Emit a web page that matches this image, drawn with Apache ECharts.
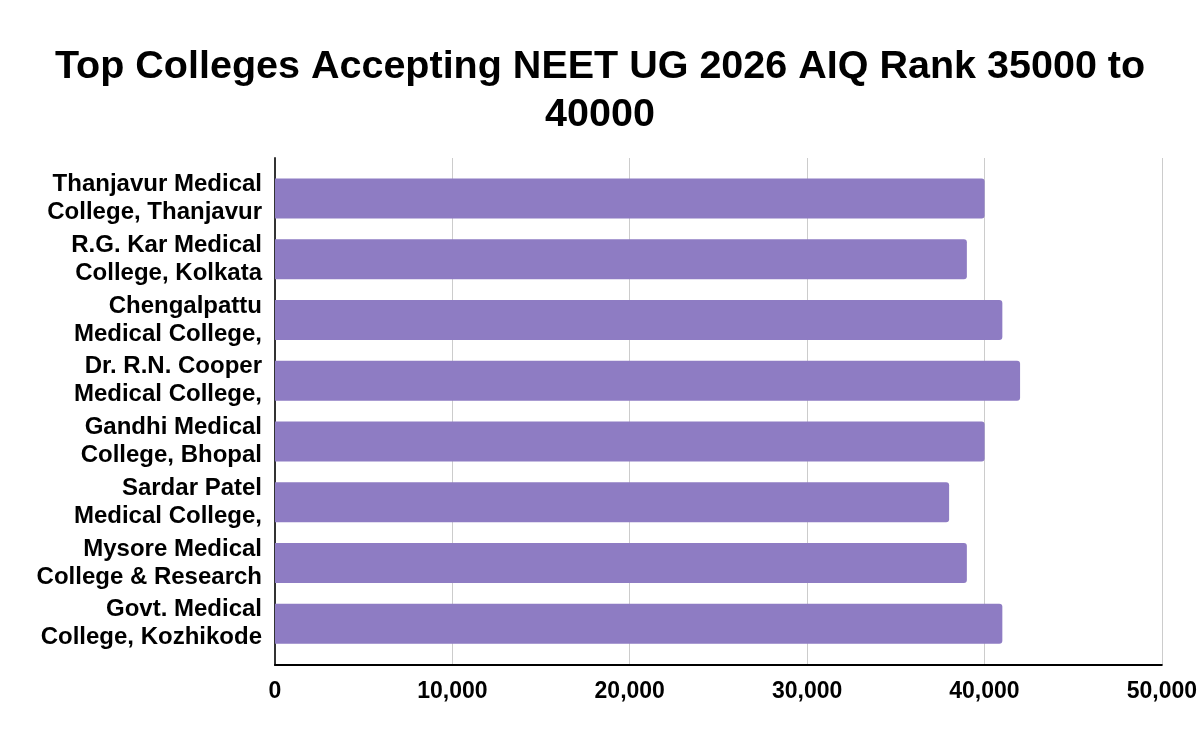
<!DOCTYPE html>
<html>
<head>
<meta charset="utf-8">
<script src="https://cdn.jsdelivr.net/npm/echarts@6/dist/echarts.min.js"></script>
<style>
html, body { margin: 0; padding: 0; background: #fff; }
#container { width: 1200px; height: 742px; }
</style>
</head>
<body>
<div id="container"></div>
<script>
var colleges = [
    'Thanjavur Medical\nCollege, Thanjavur',
    'R.G. Kar Medical\nCollege, Kolkata',
    'Chengalpattu\nMedical College,',
    'Dr. R.N. Cooper\nMedical College,',
    'Gandhi Medical\nCollege, Bhopal',
    'Sardar Patel\nMedical College,',
    'Mysore Medical\nCollege & Research',
    'Govt. Medical\nCollege, Kozhikode'
];
var closingRank = [40000, 39000, 41000, 42000, 40000, 38000, 39000, 41000];

var font = 'Liberation Sans';
var dom = document.getElementById('container');
var myChart = echarts.init(dom);

var option = {
    animation: false,
    title: {
        text: 'Top Colleges Accepting NEET UG 2026 AIQ Rank 35000 to\n40000',
        left: 'center',
        top: 38,
        textStyle: {
            fontFamily: font,
            fontSize: 39.5,
            fontWeight: 'bold',
            color: '#000',
            lineHeight: 48
        }
    },
    grid: [
        { left: 275, right: 38, top: 158, bottom: 77 },
        { left: 275, right: 38, top: 168, bottom: 88 }
    ],
    xAxis: [
        {
            gridIndex: 0,
            type: 'value',
            min: 0,
            max: 50000,
            interval: 10000,
            axisLine: { show: true, lineStyle: { color: '#000', width: 2 } },
            axisTick: { show: false },
            splitLine: { lineStyle: { color: '#cccccc', width: 1 } },
            axisLabel: {
                margin: 15,
                fontFamily: font,
                fontSize: 23,
                fontWeight: 'bold',
                color: '#000',
                formatter: function (v) { return v.toLocaleString('en-US'); }
            }
        },
        {
            gridIndex: 1,
            type: 'value',
            min: 0,
            max: 50000,
            show: false
        }
    ],
    yAxis: [
        {
            gridIndex: 0,
            type: 'category',
            data: [''],
            axisLine: { show: true, lineStyle: { color: '#333', width: 2 } },
            axisTick: { show: false },
            axisLabel: { show: false }
        },
        {
            gridIndex: 1,
            type: 'category',
            inverse: true,
            data: colleges,
            axisLine: { show: false },
            axisTick: { show: false },
            axisLabel: {
                interval: 0,
                showMinLabel: true,
                showMaxLabel: true,
                hideOverlap: false,
                margin: 13,
                fontFamily: font,
                fontSize: 24,
                fontWeight: 'bold',
                color: '#000',
                lineHeight: 28,
                align: 'right',
                padding: [16, 0, 0, 0]
            }
        }
    ],
    series: [
        {
            name: 'AIQ Rank',
            type: 'bar',
            xAxisIndex: 1,
            yAxisIndex: 1,
            data: closingRank,
            barWidth: 40,
            itemStyle: { color: '#8e7cc3', borderRadius: [0, 3, 3, 0] }
        }
    ]
};
myChart.setOption(option, true);
</script>
</body>
</html>
